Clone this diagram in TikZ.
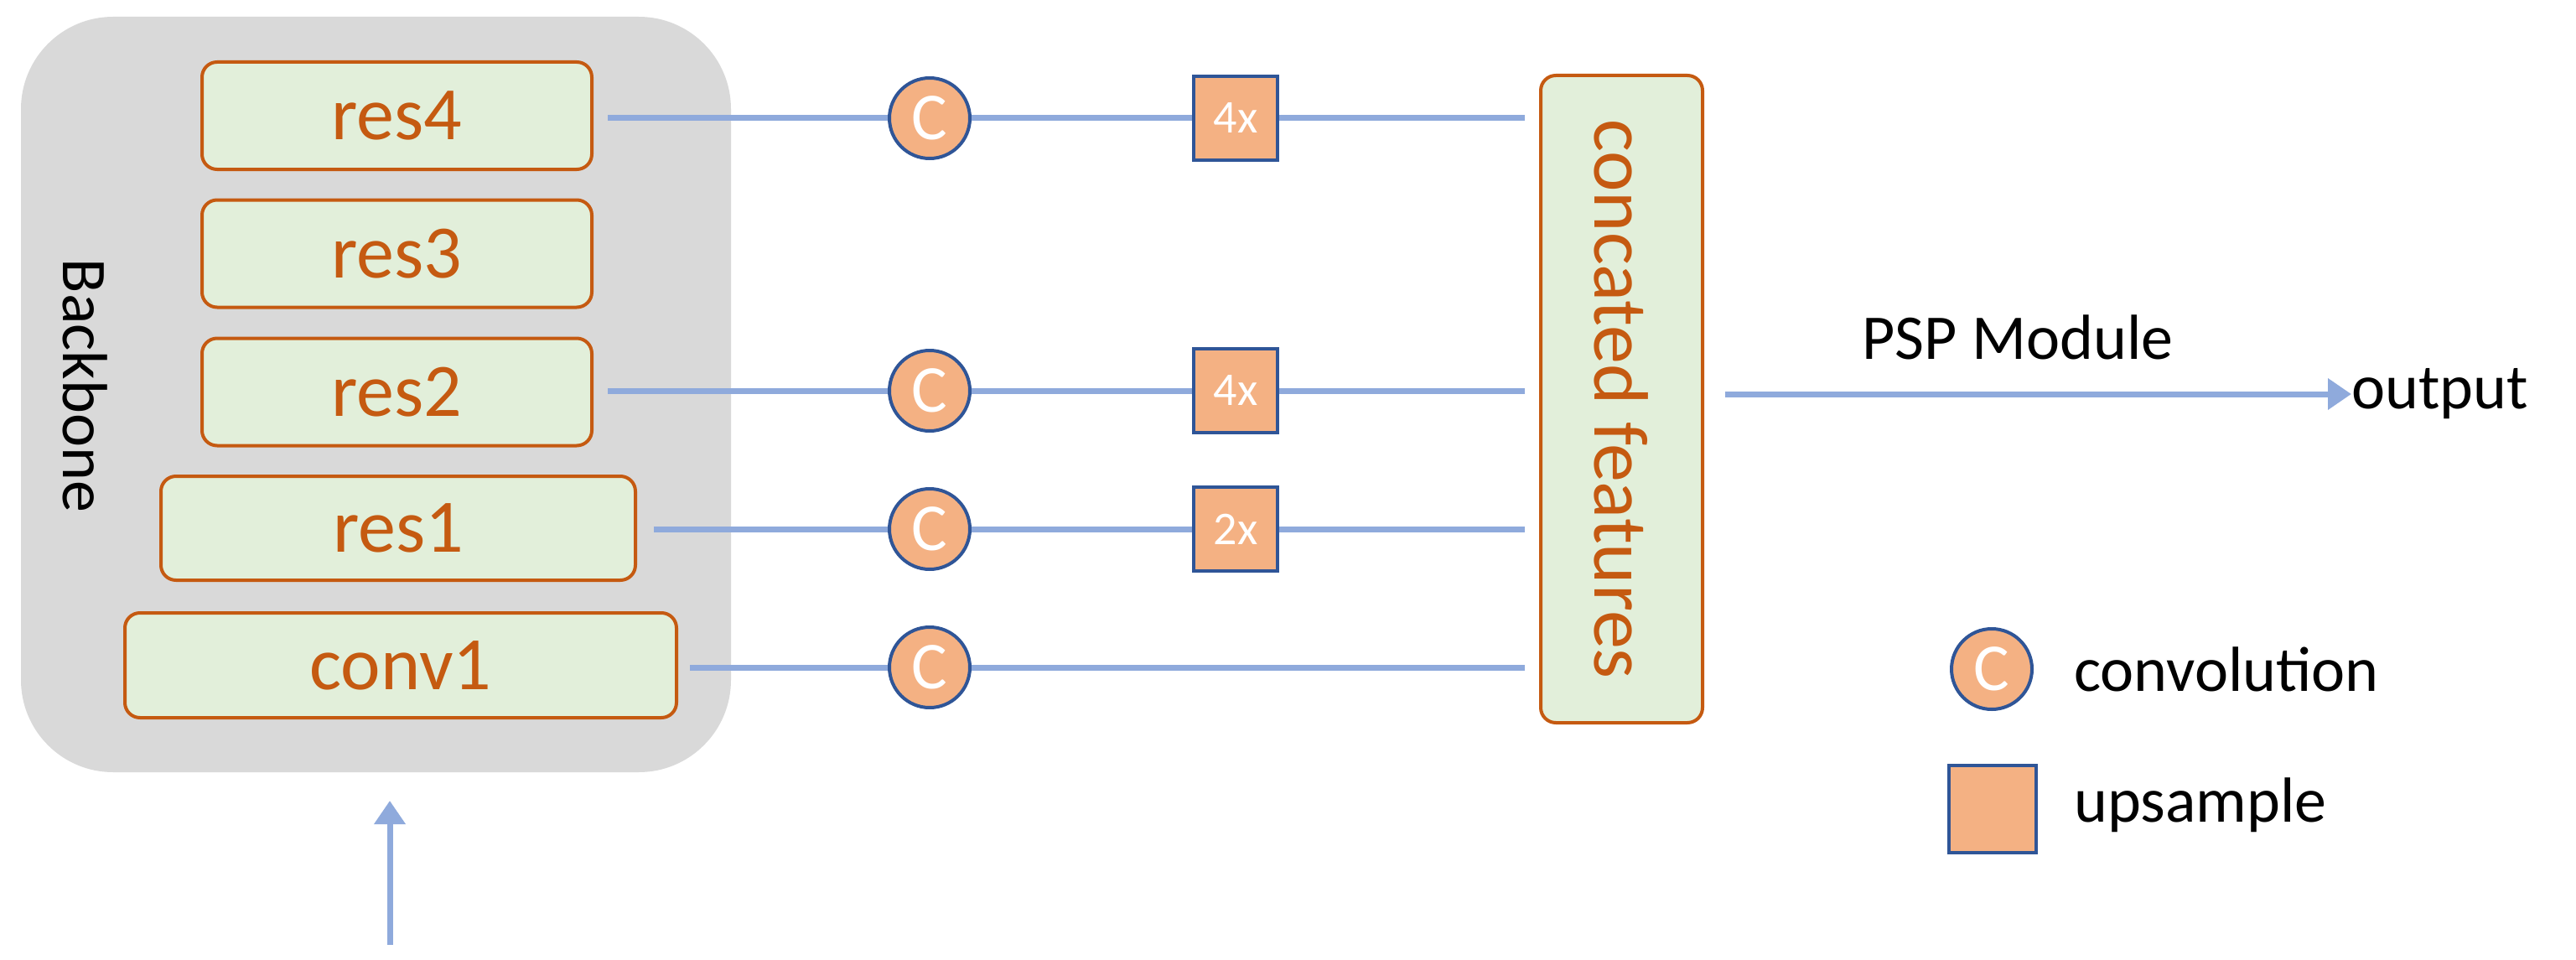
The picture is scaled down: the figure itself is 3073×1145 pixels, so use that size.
\documentclass[tikz,border=0pt]{standalone}
\usepackage{fontspec}
\setmainfont{Carlito}
\usetikzlibrary{arrows.meta}
\definecolor{bgray}{HTML}{D9D9D9}
\definecolor{lgreen}{HTML}{E2EFDA}
\definecolor{dorange}{HTML}{C55A11}
\definecolor{lorange}{HTML}{F4B183}
\definecolor{lblue}{HTML}{8FAADC}
\definecolor{dblue}{HTML}{2F5597}
\begin{document}
\begin{tikzpicture}[x=1pt,y=-1pt,
  blk/.style={draw=dorange,line width=4pt,fill=lgreen,rounded corners=18pt,inner sep=0pt,text=dorange,font=\fontsize{90}{90}\selectfont},
  conv/.style={circle,draw=dblue,line width=4pt,fill=lorange,minimum size=96pt,inner sep=0pt,text=white,font=\fontsize{80}{80}\selectfont},
  up/.style={rectangle,draw=dblue,line width=4pt,fill=lorange,minimum size=100pt,inner sep=0pt,text=white,font=\fontsize{56}{56}\selectfont},
  ln/.style={draw=lblue,line width=7pt},
  lbl/.style={font=\fontsize{76}{76}\selectfont,inner sep=0pt}]
\useasboundingbox (0,0) rectangle (3073,1145);
\node[fill=bgray,rounded corners=110pt,minimum width=847pt,minimum height=901pt,inner sep=0pt] (bb) at (448.5,470.5) {};
\node[rotate=-90,lbl] (bbt) at (102,460) {Backbone};
\node[blk,minimum width=465pt,minimum height=128pt] (r4) at (473.5,138) {res4};
\node[blk,minimum width=465pt,minimum height=128pt] (r3) at (473.5,302.5) {res3};
\node[blk,minimum width=465pt,minimum height=128pt] (r2) at (473.5,467.5) {res2};
\node[blk,minimum width=566pt,minimum height=124pt] (r1) at (475,630) {res1};
\node[blk,minimum width=658pt,minimum height=125pt] (c1) at (478,793.5) {conv1};
\node[blk,minimum width=193pt,minimum height=772pt] (cf) at (1934.5,476) {};
\node[rotate=-90,text=dorange,font=\fontsize{92}{92}\selectfont,inner sep=0pt] (cft) at (1934.5,476) {concated features};
\coordinate (e4) at (725,141); \coordinate (e2) at (725,466);
\coordinate (e1) at (780,631); \coordinate (e0) at (823,796);
\coordinate (f4) at (1819,141); \coordinate (f2) at (1819,466);
\coordinate (f1) at (1819,631); \coordinate (f0) at (1819,796);
\node[conv] (k4) at (1109,141) {C};
\node[conv] (k2) at (1109,466) {C};
\node[conv] (k1) at (1109,631) {C};
\node[conv] (k0) at (1109,796) {C};
\node[up] (u4) at (1474,141) {4x};
\node[up] (u2) at (1474,466) {4x};
\node[up] (u1) at (1474,631) {2x};
\draw[ln] (e4) -- (k4); \draw[ln] (k4) -- (u4); \draw[ln] (u4) -- (f4);
\draw[ln] (e2) -- (k2); \draw[ln] (k2) -- (u2); \draw[ln] (u2) -- (f2);
\draw[ln] (e1) -- (k1); \draw[ln] (k1) -- (u1); \draw[ln] (u1) -- (f1);
\draw[ln] (e0) -- (k0); \draw[ln] (k0) -- (f0);
\coordinate (ps) at (2058,470);
\node[lbl,anchor=west] (out) at (2805,470) {output};
\draw[ln,-{Triangle[length=28pt,width=36pt]}] (ps) -- (out.west);
\node[lbl] (psp) at (2407,402) {PSP Module};
\coordinate (in0) at (465,1127); \coordinate (in1) at (465,955);
\draw[ln,-{Triangle[length=28pt,width=36pt]}] (in0) -- (in1);
\node[conv] (lc) at (2376,798) {C};
\node[lbl,anchor=west] (lct) at (2474,798) {convolution};
\node[up,minimum size=104pt] (lu) at (2377,965) {};
\node[lbl,anchor=west] (lut) at (2474,960) {upsample};
\end{tikzpicture}
\end{document}
